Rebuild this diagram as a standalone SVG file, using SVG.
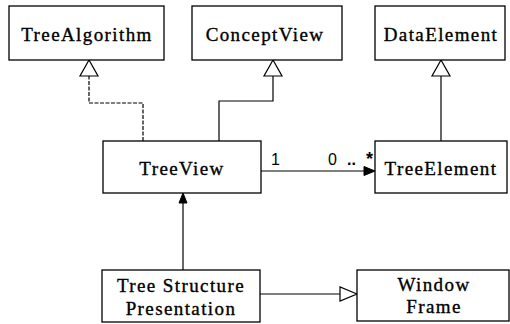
<svg xmlns="http://www.w3.org/2000/svg" width="510" height="324" viewBox="0 0 510 324">
<style>
.box{fill:#fff;stroke:#000;stroke-width:1.3}
.t{font-family:"Liberation Serif","Times New Roman",serif;font-size:19px;letter-spacing:1.4px;text-anchor:middle;fill:#000;stroke:#000;stroke-width:0.35}
.c{fill:none;stroke:#000;stroke-width:1.2}
.d{stroke-dasharray:4 1.5}
.lbl{font-family:"Liberation Sans",Arial,sans-serif;font-size:16px;fill:#000}
.hollow{fill:#fff;stroke:#000;stroke-width:1.2}
.filled{fill:#000;stroke:#000;stroke-width:1}
</style>
<rect width="510" height="324" fill="#fff"/>
<g id="connectors">
  <polyline class="c d" points="143,141 143,103 89,103 89,76"/>
  <polygon class="hollow" points="89,60 80,76 98,76"/>
  <polyline class="c" points="219,141 219,101 273,101 273,76"/>
  <polygon class="hollow" points="273,60 264,76 282,76"/>
  <line class="c" x1="441" y1="141" x2="441" y2="76"/>
  <polygon class="hollow" points="441,60 432,76 450,76"/>
  <line class="c" x1="261" y1="171" x2="366" y2="171"/>
  <polygon class="filled" points="375,171 364,166.5 364,175.5"/>
  <text class="lbl" x="271" y="165">1</text>
  <text class="lbl"><tspan x="328" y="165">0</tspan> <tspan x="347" y="165" font-weight="bold">..</tspan> <tspan x="366" y="165" font-size="18" font-weight="bold">*</tspan></text>
  <line class="c" x1="183" y1="270" x2="183" y2="202"/>
  <polygon class="filled" points="183,193 179,203 187,203"/>
  <line class="c" x1="260" y1="294" x2="340" y2="294"/>
  <polygon class="hollow" points="357,294 340,287 340,301"/>
</g>
<g id="TreeAlgorithm">
  <rect class="box" x="9" y="6" width="155" height="54"/>
  <text class="t" x="87" y="41">TreeAlgorithm</text>
</g>
<g id="ConceptView">
  <rect class="box" x="192" y="6" width="150" height="54"/>
  <text class="t" x="265" y="41">ConceptView</text>
</g>
<g id="DataElement">
  <rect class="box" x="375" y="6" width="130" height="54"/>
  <text class="t" x="441" y="41">DataElement</text>
</g>
<g id="TreeView">
  <rect class="box" x="103" y="141" width="158" height="52"/>
  <text class="t" x="182" y="175">TreeView</text>
</g>
<g id="TreeElement">
  <rect class="box" x="375" y="141" width="132" height="52"/>
  <text class="t" x="441" y="175">TreeElement</text>
</g>
<g id="TreeStructurePresentation">
  <rect class="box" x="102" y="270" width="158" height="52"/>
  <text class="t" x="181" y="292">Tree Structure</text>
  <text class="t" x="181" y="315">Presentation</text>
</g>
<g id="WindowFrame">
  <rect class="box" x="357" y="270" width="152" height="51"/>
  <text class="t" x="434" y="291">Window</text>
  <text class="t" x="434" y="313">Frame</text>
</g>
</svg>
